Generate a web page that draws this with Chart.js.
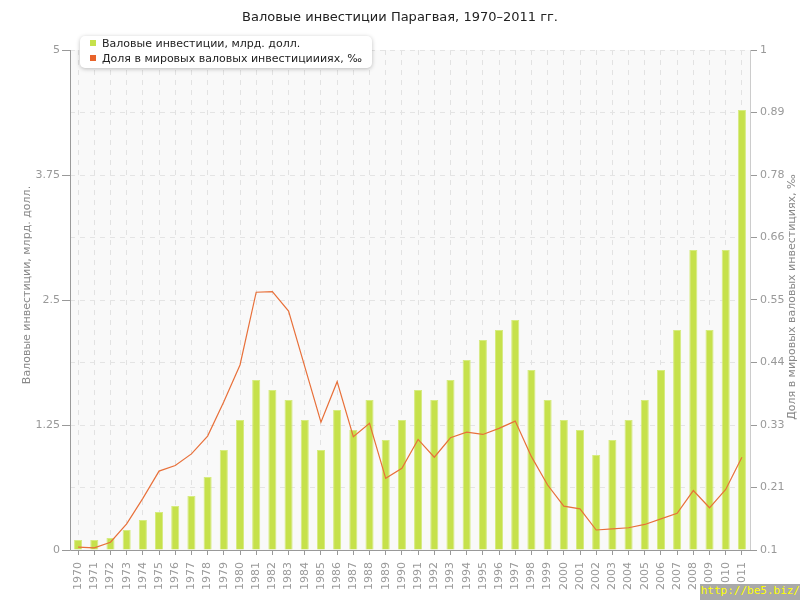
<!DOCTYPE html>
<html>
<head>
<meta charset="utf-8">
<script src="https://cdn.jsdelivr.net/npm/chart.js@4"></script>
<style>
  body { margin: 0; background: #fff; }
  #wrap { position: relative; width: 800px; height: 600px; font-family: "DejaVu Sans", sans-serif; }
  #legend {
    position: absolute; left: 80px; top: 36px; width: 292px; height: 32px;
    background: #fff; border-radius: 5px; box-shadow: 0 1px 4px rgba(0,0,0,0.25);
    font-size: 11px; color: #222;
  }
  #legend div { position: absolute; left: 10px; height: 14px; line-height: 14px; white-space: nowrap; }
  #legend span { display: inline-block; width: 6px; height: 6px; margin-right: 6px; vertical-align: 1px; }
  #mark {
    position: absolute; right: 0; bottom: 0; width: 100px; height: 16px; line-height: 16px;
    background: #a9a9a9; color: #ffff00; font: 11px "DejaVu Sans Mono", monospace; text-align: right;
  }
</style>
</head>
<body>
<div id="wrap">
  <canvas id="myChart" width="800" height="600"></canvas>
  <div id="legend"></div>
  <div id="mark">http://be5.biz/</div>
</div>
<script>
// data
const years = ['1970','1971','1972','1973','1974','1975','1976','1977','1978','1979',
  '1980','1981','1982','1983','1984','1985','1986','1987','1988','1989',
  '1990','1991','1992','1993','1994','1995','1996','1997','1998','1999',
  '2000','2001','2002','2003','2004','2005','2006','2007','2008','2009',
  '2010','2011'];
// млрд. долл.
const investments = [0.1, 0.1, 0.12, 0.2, 0.3, 0.38, 0.44, 0.54, 0.73, 1.0,
  1.3, 1.7, 1.6, 1.5, 1.3, 1.0, 1.4, 1.2, 1.5, 1.1,
  1.3, 1.6, 1.5, 1.7, 1.9, 2.1, 2.2, 2.3, 1.8, 1.5,
  1.3, 1.2, 0.95, 1.1, 1.3, 1.5, 1.8, 2.2, 3.0, 2.2,
  3.0, 4.4];
// доля, промилле
const worldShare = [0.105, 0.104, 0.114, 0.147, 0.193, 0.242, 0.252, 0.273, 0.305, 0.367,
  0.433, 0.564, 0.565, 0.530, 0.430, 0.330, 0.403, 0.304, 0.328, 0.229,
  0.247, 0.299, 0.267, 0.302, 0.312, 0.308, 0.319, 0.332, 0.268, 0.217,
  0.179, 0.174, 0.136, 0.138, 0.140, 0.146, 0.156, 0.166, 0.207, 0.176,
  0.209, 0.267];
const leftTickLabels = ['0', '', '1.25', '', '2.5', '', '3.75', '', '5'];
const rightTickLabels = ['0.1', '0.21', '0.33', '0.44', '0.55', '0.66', '0.78', '0.89', '1'];

const tickFont = { family: 'DejaVu Sans', size: 11 };

// grey plot background
const plotBg = {
  id: 'plotBg',
  beforeDraw(chart) {
    const a = chart.chartArea, ctx = chart.ctx;
    ctx.save();
    ctx.fillStyle = '#f9f9f9';
    ctx.fillRect(a.left, a.top, a.right - a.left, a.bottom - a.top);
    ctx.restore();
  }
};

// solid axis lines + axis titles (both titles read bottom-to-top)
const axisDeco = {
  id: 'axisDeco',
  afterDraw(chart) {
    const a = chart.chartArea, ctx = chart.ctx;
    ctx.save();
    ctx.lineWidth = 1;
    ctx.strokeStyle = '#ccc';
    ctx.beginPath();
    ctx.moveTo(a.right + 0.5, a.top);
    ctx.lineTo(a.right + 0.5, a.bottom);
    ctx.stroke();
    ctx.strokeStyle = '#999';
    ctx.beginPath();
    ctx.moveTo(a.left + 0.5, a.top);
    ctx.lineTo(a.left + 0.5, a.bottom + 0.5);
    ctx.lineTo(a.right + 1, a.bottom + 0.5);
    ctx.stroke();

    ctx.font = '11px "DejaVu Sans"';
    ctx.fillStyle = '#888';
    ctx.textAlign = 'center';
    ctx.textBaseline = 'middle';
    ctx.save();
    ctx.translate(27, 285);
    ctx.rotate(-Math.PI / 2);
    ctx.fillText('Валовые инвестиции, млрд. долл.', 0, 0);
    ctx.restore();
    ctx.translate(792, 297);
    ctx.rotate(-Math.PI / 2);
    ctx.fillText('Доля в мировых валовых инвестициях, ‰', 0, 0);
    ctx.restore();
  }
};

var ctx = document.getElementById('myChart');
const chart = new Chart(ctx, {
  type: 'bar',
  data: {
    labels: years,
    datasets: [{
      type: 'line',
      label: 'Доля в мировых валовых инвестициииях, ‰',
      data: worldShare,
      yAxisID: 'y1',
      borderColor: '#e8703a',
      backgroundColor: '#e8632a',
      borderWidth: 1.2,
      pointRadius: 0,
      tension: 0,
      order: 0
    }, {
      label: 'Валовые инвестиции, млрд. долл.',
      data: investments,
      yAxisID: 'y',
      backgroundColor: '#c6e14b',
      borderColor: '#d6eb80',
      borderWidth: 1,
      barPercentage: 0.5,
      categoryPercentage: 1,
      order: 1
    }]
  },
  options: {
    responsive: false,
    animation: false,
    layout: { padding: 0 },
    plugins: {
      legend: { display: false },
      tooltip: { enabled: false },
      title: {
        display: true,
        text: 'Валовые инвестиции Парагвая, 1970–2011 гг.',
        color: '#222',
        font: { family: 'DejaVu Sans', size: 13, weight: 'normal' },
        padding: { top: 10, bottom: 24.4 }
      }
    },
    scales: {
      x: {
        z: 1,
        offset: true,
        grid: {
          color: '#e2e2e2',
          tickColor: '#999',
          tickLength: 5,
          offset: false
        },
        border: { display: false, dash: [5, 5] },
        ticks: {
          color: '#999',
          font: tickFont,
          minRotation: 90,
          maxRotation: 90,
          autoSkip: false,
          padding: 7
        },
        afterFit(s) { s.height = 50; }
      },
      y: {
        position: 'left',
        min: 0,
        max: 5,
        grid: {
          color: '#e4e4e4',
          tickLength: 8,
          tickColor: (c) => leftTickLabels[c.index] ? '#999' : 'rgba(0,0,0,0)'
        },
        border: { display: false, dash: [5, 5] },
        ticks: {
          stepSize: 0.625,
          color: '#999',
          font: tickFont,
          padding: 2,
          callback: (v, i) => leftTickLabels[i]
        },
        afterFit(s) { s.width = 70; }
      },
      y1: {
        position: 'right',
        min: 0.1,
        max: 1,
        grid: {
          drawOnChartArea: false,
          tickLength: 7,
          tickColor: '#999'
        },
        border: { display: false },
        ticks: {
          stepSize: 0.1125,
          color: '#999',
          font: tickFont,
          padding: 3,
          callback: (v, i) => rightTickLabels[i]
        },
        afterFit(s) { s.width = 50; }
      }
    }
  },
  plugins: [plotBg, axisDeco]
});

// legend box built from the datasets (bars first, as in the original)
const legendBox = document.getElementById('legend');
[chart.data.datasets[1], chart.data.datasets[0]].forEach(function (ds, i) {
  const row = document.createElement('div');
  row.style.top = (i === 0 ? 1 : 16) + 'px';
  row.innerHTML = '<span style="background:' + ds.backgroundColor + '"></span>' + ds.label;
  legendBox.appendChild(row);
});
</script>
</body>
</html>
